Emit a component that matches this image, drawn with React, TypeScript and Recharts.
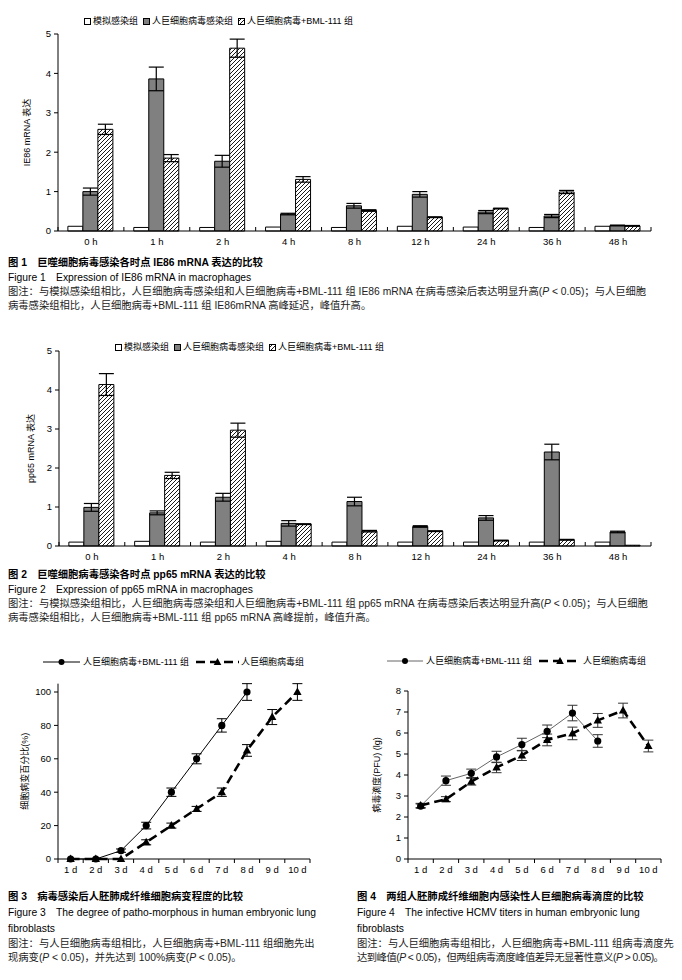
import React from "react"
import { BarChart, Bar, LineChart, Line, XAxis, YAxis, ErrorBar, Legend } from "recharts"

const FONT = '"Liberation Sans", "Noto Sans CJK SC", sans-serif'

// figure 1 / 2: time points and groups
const hours = ["0 h", "1 h", "2 h", "4 h", "8 h", "12 h", "24 h", "36 h", "48 h"]
const barNames = ["模拟感染组", "人巨细胞病毒感染组", "人巨细胞病毒+BML-111 组"]

const ie86Mock = [0.12, 0.09, 0.09, 0.1, 0.09, 0.12, 0.1, 0.09, 0.12]
const ie86Virus = [1.0, 3.86, 1.77, 0.43, 0.64, 0.93, 0.48, 0.38, 0.14]
const ie86VirusErr = [0.09, 0.3, 0.15, 0.02, 0.06, 0.07, 0.04, 0.04, 0.01]
const ie86Bml = [2.58, 1.85, 4.64, 1.31, 0.52, 0.35, 0.57, 0.99, 0.13]
const ie86BmlErr = [0.13, 0.09, 0.23, 0.07, 0.02, 0.01, 0.01, 0.04, 0.01]

const pp65Mock = [0.1, 0.12, 0.1, 0.12, 0.1, 0.1, 0.1, 0.1, 0.1]
const pp65Virus = [0.99, 0.85, 1.25, 0.58, 1.14, 0.5, 0.72, 2.41, 0.36]
const pp65VirusErr = [0.1, 0.05, 0.1, 0.07, 0.11, 0.02, 0.06, 0.2, 0.02]
const pp65Bml = [4.14, 1.81, 2.97, 0.56, 0.38, 0.38, 0.14, 0.16, 0.02]
const pp65BmlErr = [0.28, 0.08, 0.18, 0.01, 0.02, 0.01, 0.01, 0.01, null]

// figure 3 / 4: days
const days = ["1 d", "2 d", "3 d", "4 d", "5 d", "6 d", "7 d", "8 d", "9 d", "10 d"]
const lineNames = ["人巨细胞病毒+BML-111 组", "人巨细胞病毒组"]

const cpeBml = [0, 0, 5, 20, 40, 60, 80, 100, null, null]
const cpeBmlErr = [null, null, 1, 2, 2.5, 3, 4, 5, null, null]
const cpeVirus = [0, 0, 0, 10, 20, 30, 40, 65, 85, 100]
const cpeVirusErr = [null, null, null, 1.5, 1.5, 1.5, 2.5, 3.5, 4.5, 5]

const titerBml = [2.52, 3.73, 4.08, 4.86, 5.45, 6.08, 6.95, 5.62, null, null]
const titerBmlErr = [0.1, 0.22, 0.2, 0.27, 0.3, 0.3, 0.37, 0.3, null, null]
const titerVirus = [2.55, 2.85, 3.68, 4.36, 4.93, 5.67, 5.98, 6.6, 7.07, 5.38]
const titerVirusErr = [0.1, 0.12, 0.16, 0.25, 0.24, 0.28, 0.3, 0.33, 0.35, 0.28]

const ie86Data = hours.map((h, i) => ({
  hour: h, mock: ie86Mock[i], virus: ie86Virus[i], virusErr: ie86VirusErr[i], bml: ie86Bml[i], bmlErr: ie86BmlErr[i],
}))
const pp65Data = hours.map((h, i) => ({
  hour: h, mock: pp65Mock[i], virus: pp65Virus[i], virusErr: pp65VirusErr[i], bml: pp65Bml[i], bmlErr: pp65BmlErr[i],
}))
const cpeData = days.map((d, i) => ({
  day: d, bml: cpeBml[i], bmlErr: cpeBmlErr[i], virus: cpeVirus[i], virusErr: cpeVirusErr[i],
}))
const titerData = days.map((d, i) => ({
  day: d, bml: titerBml[i], bmlErr: titerBmlErr[i], virus: titerVirus[i], virusErr: titerVirusErr[i],
}))

// category tick: label in the middle, small tick marks on the band edges
function catTick(band: number, up: boolean, fontSize: number) {
  return (props: any) => {
    const { x, y, payload, index } = props
    const d = up ? -4 : 4
    return (
      <g>
        {index === 0 && <line x1={x - band / 2} x2={x - band / 2} y1={y} y2={y + d} stroke="#000" />}
        <line x1={x + band / 2} x2={x + band / 2} y1={y} y2={y + d} stroke="#000" />
        <text x={x} y={y + 7} dy="0.71em" textAnchor="middle" fontSize={fontSize} fill="#000">
          {payload.value}
        </text>
      </g>
    )
  }
}

function Swatch({ fill }: { fill: string }) {
  return (
    <svg width={7} height={7} style={{ marginRight: 2, flex: "none" }}>
      <rect x={0.5} y={0.5} width={6} height={6} fill={fill} stroke="#000" strokeWidth={1} />
    </svg>
  )
}

const barFills = ["#fff", "#808080", "url(#hatch)"]

const barLegend = () => (
  <div style={{ display: "flex", alignItems: "center", fontSize: 9, lineHeight: "12px", color: "#000", whiteSpace: "nowrap" }}>
    {barNames.map((n, i) => (
      <div key={n} style={{ display: "flex", alignItems: "center", marginRight: 5 }}>
        <Swatch fill={barFills[i]} />
        <span>{n}</span>
      </div>
    ))}
  </div>
)

function Triangle(props: any) {
  const { cx, cy, index } = props
  if (cx == null || cy == null) return <g key={index} />
  return <path key={index} d={`M${cx},${cy - 4.5}L${cx + 4.2},${cy + 3}L${cx - 4.2},${cy + 3}Z`} fill="#000" />
}

function Circle(props: any) {
  const { cx, cy, index } = props
  if (cx == null || cy == null) return <g key={index} />
  return <circle key={index} cx={cx} cy={cy} r={3.6} fill="#000" />
}

function lineLegend(solidColor: string, w1: number, w2: number) {
  return () => (
    <div style={{ display: "flex", alignItems: "center", fontSize: 9, lineHeight: "12px", color: "#000", whiteSpace: "nowrap" }}>
      <svg width={w1} height={10} style={{ flex: "none" }}>
        <line x1={0} x2={w1} y1={5} y2={5} stroke={solidColor} strokeWidth={1} />
        <circle cx={w1 / 2} cy={5} r={3} fill="#000" />
      </svg>
      <span style={{ marginLeft: 3, marginRight: 7 }}>{lineNames[0]}</span>
      <svg width={w2} height={10} style={{ flex: "none" }}>
        <line x1={0} x2={w2} y1={5} y2={5} stroke="#000" strokeWidth={2.5} strokeDasharray="9 5" />
        <path d={`M${w2 / 2},1L${w2 / 2 + 3.8},8L${w2 / 2 - 3.8},8Z`} fill="#000" />
      </svg>
      <span style={{ marginLeft: 2 }}>{lineNames[1]}</span>
    </div>
  )
}

const axisStroke = { stroke: "#000" }

function MrnaChart({ data, yLabel, margin, labelOffset, legendPos, band }: any) {
  return (
    <BarChart width={682} height={250} data={data} margin={margin} barGap={0} barCategoryGap="15%" style={{ fontFamily: FONT }}>
      <defs>
        <pattern id="hatch" patternUnits="userSpaceOnUse" width={4} height={4}>
          <rect width={4} height={4} fill="#fff" />
          <path d="M-1,1 L1,-1 M0,4 L4,0 M3,5 L5,3" stroke="#000" strokeWidth={0.9} />
        </pattern>
      </defs>
      <XAxis dataKey="hour" height={16} tickSize={0} tickMargin={0} axisLine={axisStroke} tickLine={false} interval={0} tick={catTick(band, true, 9.5)} />
      <YAxis
        domain={[0, 5]}
        ticks={[0, 1, 2, 3, 4, 5]}
        width={40}
        tickSize={4}
        tickMargin={3}
        axisLine={axisStroke}
        tickLine={axisStroke}
        tick={{ fontSize: 9.5, fill: "#000" }}
        label={{ value: yLabel, angle: -90, position: "insideLeft", offset: labelOffset, style: { textAnchor: "middle", fontSize: 9, fill: "#000" } }}
      />
      <Legend content={barLegend} layout="horizontal" verticalAlign="middle" wrapperStyle={{ top: legendPos.top, left: legendPos.left, width: 340, height: 12 }} />
      <Bar dataKey="mock" name={barNames[0]} fill="#fff" stroke="#000" strokeWidth={1} isAnimationActive={false} />
      <Bar dataKey="virus" name={barNames[1]} fill="#808080" stroke="#000" strokeWidth={1} isAnimationActive={false}>
        <ErrorBar dataKey="virusErr" width={7.5} stroke="#000" strokeWidth={1.2} direction="y" />
      </Bar>
      <Bar dataKey="bml" name={barNames[2]} fill="url(#hatch)" stroke="#000" strokeWidth={1} isAnimationActive={false}>
        <ErrorBar dataKey="bmlErr" width={7.5} stroke="#000" strokeWidth={1.2} direction="y" />
      </Bar>
    </BarChart>
  )
}

function TimeChart({ data, width, margin, yLabel, labelOffset, domain, ticks, band, solidColor, errColor, legendPos, legendW }: any) {
  return (
    <LineChart width={width} height={230} data={data} margin={margin} style={{ fontFamily: FONT }}>
      <XAxis dataKey="day" scale="band" height={16} tickSize={0} tickMargin={0} axisLine={axisStroke} tickLine={false} interval={0} tick={catTick(band, false, 9.5)} />
      <YAxis
        domain={domain}
        ticks={ticks}
        width={40}
        tickSize={4}
        tickMargin={3}
        axisLine={axisStroke}
        tickLine={axisStroke}
        tick={{ fontSize: 9.5, fill: "#000" }}
        label={{ value: yLabel, angle: -90, position: "insideLeft", offset: labelOffset, style: { textAnchor: "middle", fontSize: 9, fill: "#000" } }}
      />
      <Legend content={lineLegend(solidColor, legendW[0], legendW[1])} layout="horizontal" verticalAlign="middle" wrapperStyle={{ top: legendPos.top, left: legendPos.left, width: 300, height: 12 }} />
      <Line dataKey="bml" name={lineNames[0]} stroke={solidColor} strokeWidth={1} dot={(p: any) => <Circle {...p} key={p.index} />} isAnimationActive={false}>
        <ErrorBar dataKey="bmlErr" width={5} stroke={errColor} strokeWidth={1} direction="y" />
      </Line>
      <Line dataKey="virus" name={lineNames[1]} stroke="#000" strokeWidth={2.6} strokeDasharray="9 5" dot={(p: any) => <Triangle {...p} key={p.index} />} isAnimationActive={false}>
        <ErrorBar dataKey="virusErr" width={5} stroke={errColor} strokeWidth={1} direction="y" />
      </Line>
    </LineChart>
  )
}

type Row = { y: number; t: React.ReactNode; kind: "title" | "en" | "note"; ls?: number }

function Caption({ x, rows }: { x: number; rows: Row[] }) {
  return (
    <>
      {rows.map((r, i) => (
        <div
          key={i}
          style={{
            position: "absolute",
            left: x,
            top: r.y - 7,
            height: 14,
            lineHeight: "14px",
            fontSize: 10.3,
            letterSpacing: r.ls ?? 0,
            whiteSpace: "pre",
            fontWeight: r.kind === "title" ? 700 : 400,
            color: r.kind === "note" ? "#222" : "#000",
          }}
        >
          {r.t}
        </div>
      ))}
    </>
  )
}

const P = () => <i>P</i>

export default function App() {
  return (
    <div style={{ position: "absolute", left: 0, top: 0, width: 682, height: 980, background: "#fff", fontFamily: FONT, overflow: "hidden" }}>
      <div style={{ position: "absolute", left: 0, top: 0 }}>
        <MrnaChart
          data={ie86Data}
          yLabel="IE86 mRNA 表达"
          margin={{ top: 34, right: 31, bottom: 3, left: 18 }}
          labelOffset={9}
          legendPos={{ top: 15, left: 84 }}
          band={(651 - 58) / 9}
        />
      </div>
      <Caption
        x={8}
        rows={[
          { y: 263, kind: "title", t: "图 1\u3000巨噬细胞病毒感染各时点 IE86 mRNA 表达的比较" },
          { y: 278, kind: "en", t: "Figure 1\u3000Expression of IE86 mRNA in macrophages" },
          { y: 292, kind: "note", t: <>图注：与模拟感染组相比，人巨细胞病毒感染组和人巨细胞病毒+BML-111 组 IE86 mRNA 在病毒感染后表达明显升高(<P /> &lt; 0.05)；与人巨细胞</> },
          { y: 306, kind: "note", t: "病毒感染组相比，人巨细胞病毒+BML-111 组 IE86mRNA 高峰延迟，峰值升高。" },
        ]}
      />

      <div style={{ position: "absolute", left: 0, top: 320 }}>
        <MrnaChart
          data={pp65Data}
          yLabel="pp65 mRNA 表达"
          margin={{ top: 31, right: 31, bottom: 8, left: 19 }}
          labelOffset={12}
          legendPos={{ top: 21, left: 115 }}
          band={(651 - 59) / 9}
        />
      </div>
      <Caption
        x={8}
        rows={[
          { y: 575, kind: "title", t: "图 2\u3000巨噬细胞病毒感染各时点 pp65 mRNA 表达的比较" },
          { y: 590, kind: "en", t: "Figure 2\u3000Expression of pp65 mRNA in macrophages" },
          { y: 604, kind: "note", t: <>图注：与模拟感染组相比，人巨细胞病毒感染组和人巨细胞病毒+BML-111 组 pp65 mRNA 在病毒感染后表达明显升高(<P /> &lt; 0.05)；与人巨细胞</> },
          { y: 618, kind: "note", t: "病毒感染组相比，人巨细胞病毒+BML-111 组 pp65 mRNA 高峰提前，峰值升高。" },
        ]}
      />

      <div style={{ position: "absolute", left: 0, top: 650 }}>
        <TimeChart
          data={cpeData}
          width={340}
          margin={{ top: 33.65, right: 30, bottom: 5, left: 18 }}
          yLabel="细胞病变百分比(%)"
          labelOffset={7}
          domain={[0, 105]}
          ticks={[0, 20, 40, 60, 80, 100]}
          band={(310 - 58) / 10}
          solidColor="#000"
          errColor="#000"
          legendPos={{ top: 6, left: 43 }}
          legendW={[37, 43]}
        />
      </div>
      <div style={{ position: "absolute", left: 340, top: 650 }}>
        <TimeChart
          data={titerData}
          width={342}
          margin={{ top: 41, right: 21, bottom: 5, left: 28 }}
          yLabel="病毒滴度(PFU) (lg)"
          labelOffset={9}
          domain={[0, 8]}
          ticks={[0, 1, 2, 3, 4, 5, 6, 7, 8]}
          band={(661 - 408) / 10}
          solidColor="#666"
          errColor="#333"
          legendPos={{ top: 5, left: 47 }}
          legendW={[36, 42]}
        />
      </div>
      <Caption
        x={8}
        rows={[
          { y: 897, kind: "title", t: "图 3\u3000病毒感染后人胚肺成纤维细胞病变程度的比较" },
          { y: 913, kind: "en", t: "Figure 3\u3000The degree of patho-morphous in human embryonic lung" },
          { y: 929, kind: "en", t: "fibroblasts" },
          { y: 944, kind: "note", t: "图注：与人巨细胞病毒组相比，人巨细胞病毒+BML-111 组细胞先出" },
          { y: 958, kind: "note", t: <>现病变(<P /> &lt; 0.05)，并先达到 100%病变(<P /> &lt; 0.05)。</> },
        ]}
      />
      <Caption
        x={357}
        rows={[
          { y: 897, kind: "title", t: "图 4\u3000两组人胚肺成纤维细胞内感染性人巨细胞病毒滴度的比较" },
          { y: 913, kind: "en", t: "Figure 4\u3000The infective HCMV titers in human embryonic lung" },
          { y: 929, kind: "en", t: "fibroblasts" },
          { y: 944, kind: "note", t: "图注：与人巨细胞病毒组相比，人巨细胞病毒+BML-111 组病毒滴度先" },
          { y: 958, kind: "note", ls: -0.5, t: <>达到峰值(<P /> &lt; 0.05)，但两组病毒滴度峰值差异无显著性意义(<P /> &gt; 0.05)。</> },
        ]}
      />
    </div>
  )
}
